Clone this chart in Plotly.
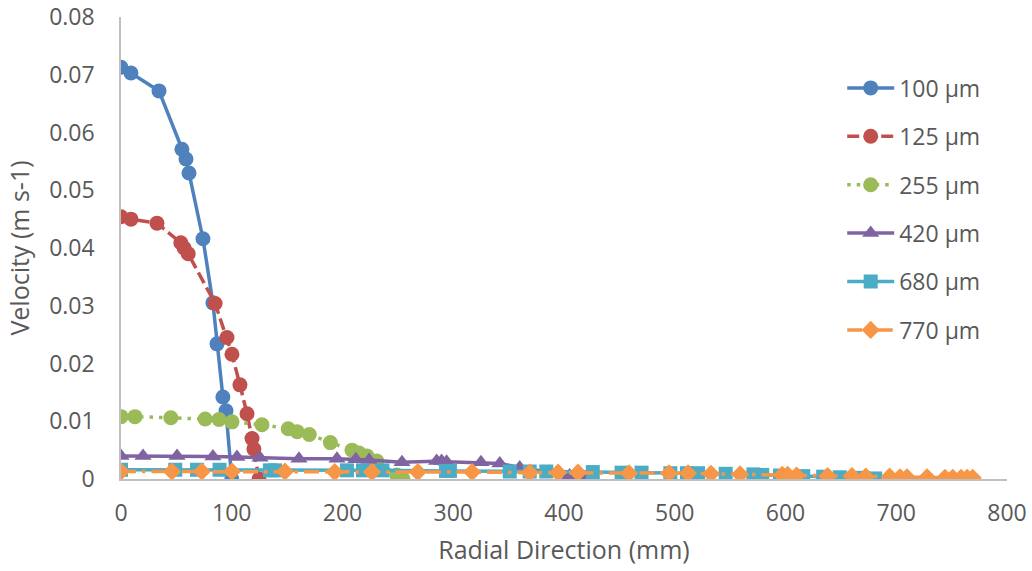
import plotly.graph_objects as go

# ---- data ----
blue_x = [0, 9, 34.3, 55, 58.7, 61.4, 74, 83, 86.7, 92, 94.8, 100]
blue_y = [0.0713, 0.0703, 0.0672, 0.0571, 0.0554, 0.0530, 0.0416, 0.0305, 0.0234, 0.0142, 0.0118, 0.0]

red_x = [0, 9, 32.5, 54, 57, 60.7, 85, 95.7, 100.2, 107.4, 113.8, 118.3, 120, 124.6]
red_y = [0.0454, 0.0450, 0.0443, 0.0409, 0.0400, 0.0390, 0.0304, 0.0245, 0.0216, 0.0163, 0.0113, 0.0070, 0.0052, 0.0]

green_x = [0, 12.6, 45, 76, 88.5, 100.2, 127.3, 151, 159, 170, 189, 208.6, 215, 222, 231, 249, 254.6]
green_y = [0.0108, 0.0108, 0.0106, 0.0104, 0.0103, 0.0099, 0.0094, 0.0087, 0.0082, 0.0077, 0.0063,
           0.0050, 0.0045, 0.0040, 0.0031, 0.0007, 0.0]

purple_x = [0, 19.9, 50.6, 83, 104.7, 125.5, 160.7, 195, 212, 224, 253.7, 285, 289.5, 294, 325, 342,
            360, 387, 405, 419]
purple_y = [0.0040, 0.0040, 0.0040, 0.0039, 0.0038, 0.0037, 0.0035, 0.0035, 0.0034, 0.0033, 0.0029,
            0.0031, 0.0031, 0.0030, 0.0029, 0.0027, 0.0020, 0.0012, 0.0006, 0.0]

cyan_x = [0, 49, 68.6, 89, 134.5, 139, 204, 218.5, 236, 293.5, 297, 351, 369, 384, 426, 452, 470, 496,
          511, 521, 546, 571, 579, 595, 616, 634, 649, 670, 681]
cyan_y = [0.0016, 0.0016, 0.0016, 0.0016, 0.0015, 0.0015, 0.0015, 0.0015, 0.0015, 0.0014, 0.0014,
          0.0013, 0.0013, 0.0013, 0.0012, 0.0011, 0.0011, 0.0010, 0.0010, 0.0010, 0.0009, 0.0008,
          0.0007, 0.0006, 0.0005, 0.0004, 0.0003, 0.0002, 0.0001]

orange_x = [0, 46, 73, 100.2, 148, 193, 226.6, 268, 317, 369, 394.6, 412.6, 458.7, 494.8, 512, 532.7,
            559, 597, 602, 610, 638, 660, 672.5, 694, 703.4, 709.7, 727.8, 744, 751, 758.5, 764, 769]
orange_y = [0.0013, 0.0013, 0.0013, 0.0013, 0.0013, 0.0012, 0.0012, 0.0012, 0.0012, 0.0011, 0.0011,
            0.0011, 0.0010, 0.0010, 0.0010, 0.0009, 0.0008, 0.0007, 0.0007, 0.0006, 0.0005, 0.0005,
            0.0004, 0.0004, 0.0003, 0.0003, 0.0003, 0.0002, 0.0002, 0.0002, 0.0002, 0.0002]

series_names = ["100 µm", "125 µm", "255 µm", "420 µm", "680 µm", "770 µm"]
x_ticks = [0, 100, 200, 300, 400, 500, 600, 700, 800]
y_ticks = [0, 0.01, 0.02, 0.03, 0.04, 0.05, 0.06, 0.07, 0.08]
y_tick_text = ["0", "0.01", "0.02", "0.03", "0.04", "0.05", "0.06", "0.07", "0.08"]

# ---- styles ----
styles = [
    dict(color="#4F81BD", dash="solid", symbol="circle", size=15),
    dict(color="#C0504D", dash="12px,5px", symbol="circle", size=15),
    dict(color="#9BBB59", dash="3.5px,6px", symbol="circle", size=15),
    dict(color="#8064A2", dash="solid", symbol="triangle-up", size=15),
    dict(color="#4BACC6", dash="solid", symbol="square", size=14),
    dict(color="#F79646", dash="15px,6px,3.5px,6px", symbol="diamond", size=14),
]
data = [(blue_x, blue_y), (red_x, red_y), (green_x, green_y), (purple_x, purple_y),
        (cyan_x, cyan_y), (orange_x, orange_y)]

FONT = "Open Sans"
GREY = "#595959"
TICK = 23
TITLE = 25

fig = go.Figure()
for i, ((xs, ys), name, st) in enumerate(zip(data, series_names, styles)):
    fig.add_trace(go.Scatter(
        x=xs, y=ys, name=name, mode="lines+markers", legendgroup=f"g{i}",
        line=dict(color=st["color"], width=3.5, dash=st["dash"]),
        marker=dict(color=st["color"], symbol=st["symbol"], size=st["size"], line=dict(width=0)),
    ))

fig.update_layout(
    width=1032, height=571,
    margin=dict(l=121, r=25, t=17, b=92),
    paper_bgcolor="white", plot_bgcolor="white",
    font=dict(family=FONT, color=GREY, size=TICK),
    showlegend=True,
    legend=dict(x=0.814, y=0.893, xanchor="left", yanchor="top",
                font=dict(family=FONT, size=TICK, color=GREY),
                itemwidth=47,
                tracegroupgap=15.5, bgcolor="rgba(0,0,0,0)"),
)
fig.update_xaxes(
    range=[0, 800], tickvals=x_ticks, showgrid=False, zeroline=False, automargin=False,
    showline=True, linecolor="#BFBFBF", linewidth=1.5,
    ticks="", ticklabelstandoff=13,
    tickfont=dict(family=FONT, size=TICK, color=GREY),
    title=dict(text="Radial Direction (mm)", font=dict(family=FONT, size=TITLE, color=GREY), standoff=14),
)
fig.update_yaxes(
    range=[0, 0.08], tickvals=y_ticks, ticktext=y_tick_text, showgrid=False, zeroline=False,
    automargin=False,
    showline=True, linecolor="#BFBFBF", linewidth=1.5,
    ticks="", ticklabelstandoff=20,
    tickfont=dict(family=FONT, size=TICK, color=GREY),
    title=dict(text="Velocity (m s-1)", font=dict(family=FONT, size=TITLE, color=GREY), standoff=12),
)

fig.write_html("out.html")
